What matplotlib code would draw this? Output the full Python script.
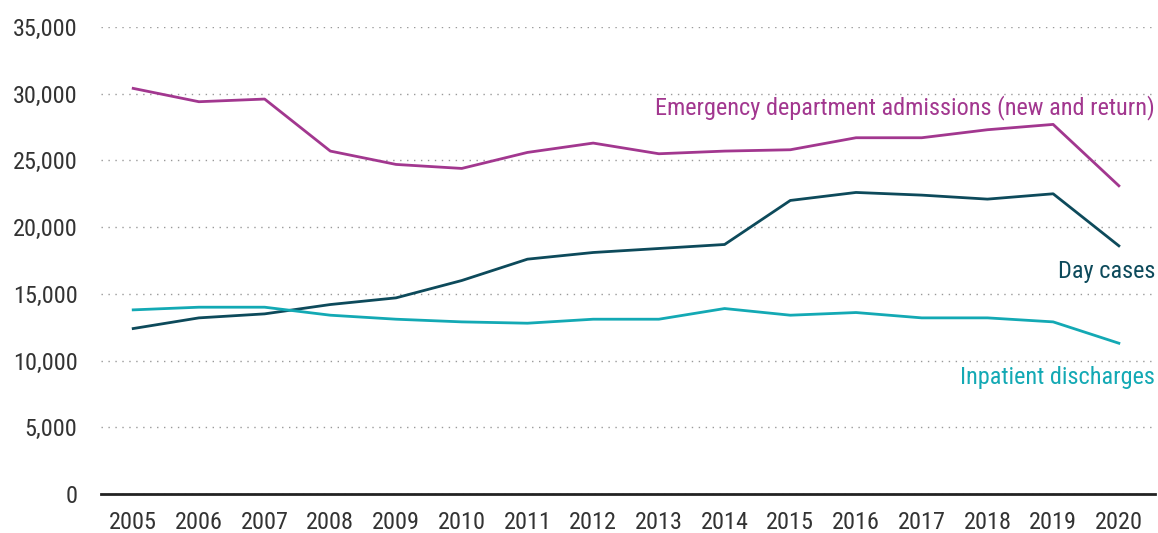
import matplotlib.pyplot as plt

plt.rcParams['font.family'] = ['Roboto Condensed', 'Roboto', 'DejaVu Sans']

# Dados
anos = list(range(2005, 2021))
emergencia = [30400, 29400, 29600, 25700, 24700, 24400, 25600, 26300,
              25500, 25700, 25800, 26700, 26700, 27300, 27700, 23100]
day_cases = [12400, 13200, 13500, 14200, 14700, 16000, 17600, 18100,
             18400, 18700, 22000, 22600, 22400, 22100, 22500, 18600]
inpatient = [13800, 14000, 14000, 13400, 13100, 12900, 12800, 13100,
             13100, 13900, 13400, 13600, 13200, 13200, 12900, 11300]

cor_emerg = '#a2378f'
cor_day = '#0d4a5b'
cor_inp = '#13a9b4'

fig = plt.figure(figsize=(11.58, 5.33), dpi=100)
ax = fig.add_axes([101/1158, 1 - 494/533, (1155 - 101)/1158, (494 - 27)/533])

ax.plot(anos, emergencia, color=cor_emerg, lw=2)
ax.plot(anos, day_cases, color=cor_day, lw=2)
ax.plot(anos, inpatient, color=cor_inp, lw=2)

ax.set_xlim(2004.51, 2020.55)
ax.set_ylim(0, 35000)
ax.set_xticks(anos)
ax.set_xticklabels([str(a) for a in anos], fontsize=17.5, color='#333333')
ax.set_yticks(range(0, 35001, 5000))
ax.set_yticklabels([f'{v:,}' for v in range(0, 35001, 5000)], fontsize=17.5, color='#333333')
ax.tick_params(axis='both', length=0)
ax.tick_params(axis='x', pad=12)
ax.tick_params(axis='y', pad=17)

for s in ['top', 'right', 'left']:
    ax.spines[s].set_visible(False)
ax.spines['bottom'].set_color('#222222')
ax.spines['bottom'].set_linewidth(2)

ax.yaxis.grid(True, linestyle=(0, (1, 4)), color='#999999', lw=1)
ax.set_axisbelow(True)

# Rótulos das séries
ax.text(2020.55, 29000, 'Emergency department admissions (new and return)',
        color=cor_emerg, fontsize=17.5, ha='right', va='center')
ax.text(2020.55, 16700, 'Day cases', color=cor_day, fontsize=17.5, ha='right', va='center')
ax.text(2020.55, 8750, 'Inpatient discharges', color=cor_inp, fontsize=17.5, ha='right', va='center')

fig.savefig('out.png', dpi=100)
